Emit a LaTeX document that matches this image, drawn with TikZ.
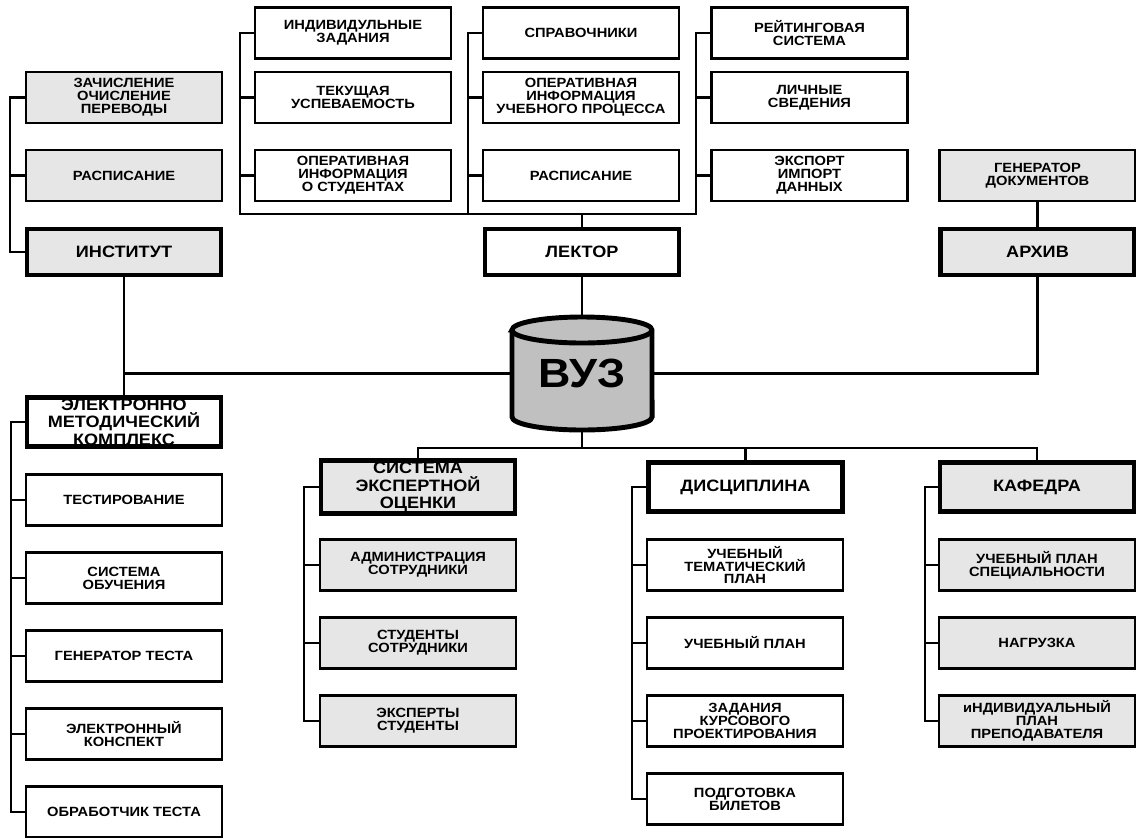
\documentclass[tikz,border=0pt]{standalone}
\usepackage{fontspec}
\setmainfont{Liberation Sans}[FakeStretch=1.1]
\usetikzlibrary{positioning}

\definecolor{boxgray}{RGB}{230,230,230}
\definecolor{dbgray}{RGB}{192,192,192}

\tikzset{
  box/.style={draw=black, line width=1.6pt, fill=white, minimum width=4.9cm, minimum height=1.28cm,
    align=center, inner sep=1pt, font=\fontsize{9.5}{9.2}\selectfont\bfseries},
  grey/.style={fill=boxgray},
  head/.style={box, line width=3.5pt, minimum width=4.85cm, minimum height=1.15cm,
    font=\fontsize{11.7}{12.4}\selectfont\bfseries},
  headlow/.style={head, minimum height=1.22cm},
  link/.style={line width=1.5pt},
}

\begin{document}
\begin{tikzpicture}[x=0.025cm, y=-0.025cm]
\useasboundingbox (0,0) rectangle (1136,837);

% институт
\draw (124,97.5) node[box,grey] (zach) {ЗАЧИСЛЕНИЕ\\ОЧИСЛЕНИЕ\\ПЕРЕВОДЫ};
\draw (124,175.5) node[box,grey] (raspI) {РАСПИСАНИЕ};
\draw (124,252) node[head,grey] (inst) {ИНСТИТУТ};

% лектор
\draw (353,33) node[box] (indiv) {ИНДИВИДУЛЬНЫЕ\\ЗАДАНИЯ};
\draw (353,97.5) node[box] (tek) {ТЕКУЩАЯ\\УСПЕВАЕМОСТЬ};
\draw (353,175.5) node[box] (operS) {ОПЕРАТИВНАЯ\\ИНФОРМАЦИЯ\\О СТУДЕНТАХ};
\draw (581,33) node[box] (sprav) {СПРАВОЧНИКИ};
\draw (581,97.5) node[box] (operU) {ОПЕРАТИВНАЯ\\ИНФОРМАЦИЯ\\УЧЕБНОГО ПРОЦЕССА};
\draw (581,175.5) node[box] (raspL) {РАСПИСАНИЕ};
\draw (809.5,33) node[box] (reit) {РЕЙТИНГОВАЯ\\СИСТЕМА};
\draw (809.5,97.5) node[box] (lichn) {ЛИЧНЫЕ\\СВЕДЕНИЯ};
\draw (809.5,175.5) node[box] (exp) {ЭКСПОРТ\\ИМПОРТ\\ДАННЫХ};
\draw (582,252) node[head] (lektor) {ЛЕКТОР};

% архив
\draw (1037.5,175.5) node[box,grey] (gendoc) {ГЕНЕРАТОР\\ДОКУМЕНТОВ};
\draw (1037.5,252) node[head,grey] (arhiv) {АРХИВ};

% вуз
\draw[line width=3.5pt, fill=dbgray] (512,330) -- (512,417)
  arc[start angle=180, end angle=360, x radius=1.75cm, y radius=0.325cm] -- (652,330)
  arc[start angle=0, end angle=180, x radius=1.75cm, y radius=0.325cm] -- cycle;
\draw[line width=3.5pt] (512,330) arc[start angle=180, end angle=360, x radius=1.75cm, y radius=0.325cm];
\draw (582,373.5) node[minimum width=3.5cm, minimum height=2.825cm, inner sep=0pt,
  font=\fontsize{29}{29}\selectfont\bfseries] (vuz) {ВУЗ};

% эмк
\draw (124,422) node[headlow] (emk) {ЭЛЕКТРОННО\\МЕТОДИЧЕСКИЙ\\КОМПЛЕКС};
\draw (124,500) node[box] (test) {ТЕСТИРОВАНИЕ};
\draw (124,578) node[box] (sysob) {СИСТЕМА\\ОБУЧЕНИЯ};
\draw (124,656) node[box] (gent) {ГЕНЕРАТОР ТЕСТА};
\draw (124,734) node[box] (konsp) {ЭЛЕКТРОННЫЙ\\КОНСПЕКТ};
\draw (124,812) node[box] (obr) {ОБРАБОТЧИК ТЕСТА};

% экспертная оценка
\draw (418,487) node[headlow,grey] (seo) {СИСТЕМА\\ЭКСПЕРТНОЙ\\ОЦЕНКИ};
\draw (418,565) node[box,grey] (admin) {АДМИНИСТРАЦИЯ\\СОТРУДНИКИ};
\draw (418,643) node[box,grey] (studS) {СТУДЕНТЫ\\СОТРУДНИКИ};
\draw (418,721) node[box,grey] (expS) {ЭКСПЕРТЫ\\СТУДЕНТЫ};

% дисциплина
\draw (745.5,487) node[headlow] (disc) {ДИСЦИПЛИНА};
\draw (745,565) node[box] (utp) {УЧЕБНЫЙ\\ТЕМАТИЧЕСКИЙ\\ПЛАН};
\draw (745,643) node[box] (uplan) {УЧЕБНЫЙ ПЛАН};
\draw (745,721) node[box] (kurs) {ЗАДАНИЯ\\КУРСОВОГО\\ПРОЕКТИРОВАНИЯ};
\draw (745,799) node[box] (bil) {ПОДГОТОВКА\\БИЛЕТОВ};

% кафедра
\draw (1037,487) node[headlow,grey] (kaf) {КАФЕДРА};
\draw (1037,565) node[box,grey] (upsp) {УЧЕБНЫЙ ПЛАН\\СПЕЦИАЛЬНОСТИ};
\draw (1037,643) node[box,grey] (nagr) {НАГРУЗКА};
\draw (1037,721) node[box,grey] (ipp) {иНДИВИДУАЛЬНЫЙ\\ПЛАН\\ПРЕПОДАВАТЕЛЯ};

% связи сверху
\coordinate (ib) at (10,97.5);
\draw[link] (zach.west) -- (ib) |- (inst.west);
\draw[link] (raspI.west) -- (raspI.west -| ib);

\coordinate (la) at (240,214);
\coordinate (lb) at (468,214);
\coordinate (lc) at (696,214);
\draw[link] (indiv.west) -| (la) -- (lc) |- (reit.west);
\draw[link] (sprav.west) -| (lb);
\foreach \n/\b in {tek/la,operS/la,operU/lb,raspL/lb,lichn/lc,exp/lc}
  \draw[link] (\n.west) -- (\n.west -| \b);
\draw[link] (lektor.north) -- (lektor.north |- la);

\draw[link] (gendoc) -- (arhiv);
\draw[link] (arhiv.south) |- (vuz.east);
\draw[link] (lektor.south) -- (vuz.north);
\draw[link] (inst.south) -- (emk.north);
\draw[link] (vuz.west) -- (vuz.west -| inst.south);

% связи снизу
\coordinate (vb) at (582,448);
\draw[link] (vuz.south) -- (vb);
\draw[link] (seo.north) |- (vb) -| (kaf.north);
\draw[link] (disc.north) -- (disc.north |- vb);

\coordinate (eb) at (11,422);
\draw[link] (emk.west) -- (eb) |- (obr.west);
\foreach \n in {test,sysob,gent,konsp}
  \draw[link] (\n.west) -- (\n.west -| eb);

\coordinate (sb) at (304,487);
\draw[link] (seo.west) -- (sb) |- (expS.west);
\foreach \n in {admin,studS}
  \draw[link] (\n.west) -- (\n.west -| sb);

\coordinate (db) at (632,487);
\draw[link] (disc.west) -- (db) |- (bil.west);
\foreach \n in {utp,uplan,kurs}
  \draw[link] (\n.west) -- (\n.west -| db);

\coordinate (kb) at (925,487);
\draw[link] (kaf.west) -- (kb) |- (ipp.west);
\foreach \n in {upsp,nagr}
  \draw[link] (\n.west) -- (\n.west -| kb);
\end{tikzpicture}
\end{document}
